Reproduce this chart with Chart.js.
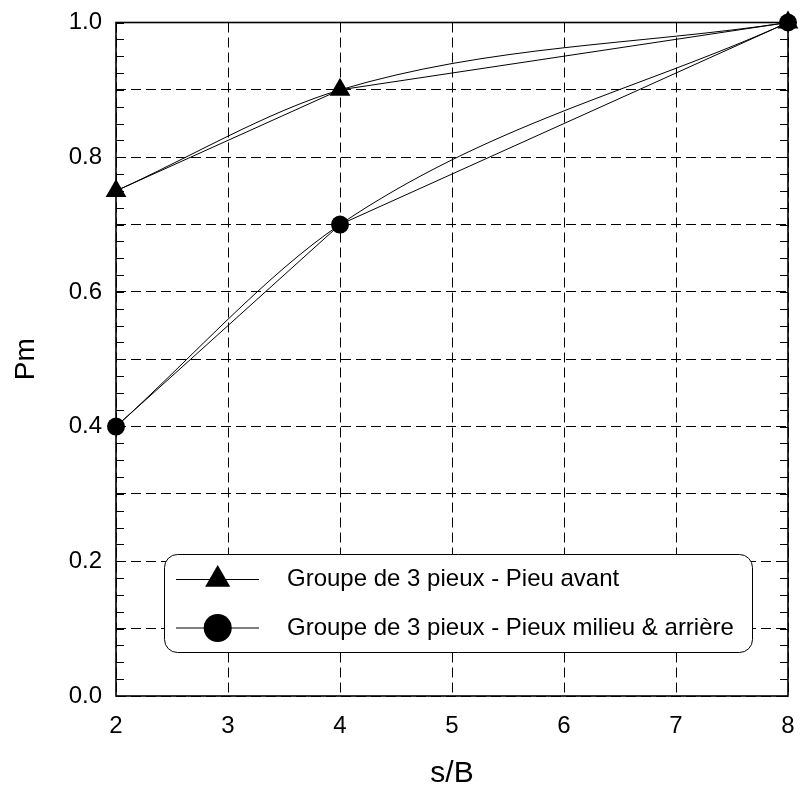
<!DOCTYPE html>
<html><head><meta charset="utf-8">
<script src="https://cdn.jsdelivr.net/npm/chart.js@4/dist/chart.umd.min.js"></script>
<style>html,body{margin:0;padding:0;background:#fff}#wrap{width:800px;height:789px}</style>
</head><body><div id="wrap"><canvas id="c" width="800" height="789"></canvas></div>
<script>
// ---- data ----
const sOverB = [2, 4, 8];
const pmAvant = [0.75, 0.9, 1.0];
const pmMilieuArriere = [0.4, 0.7, 1.0];
const seriesLabels = ['Groupe de 3 pieux - Pieu avant', 'Groupe de 3 pieux - Pieux milieu & arrière'];
const xTickValues = [2, 3, 4, 5, 6, 7, 8];
const yTickLabels = ['0.0', '0.2', '0.4', '0.6', '0.8', '1.0'];
const xTitle = 's/B';
const yTitle = 'Pm';

const FONT = "'Liberation Sans', Arial, Helvetica, sans-serif";
const pts = (ys) => sOverB.map((x, i) => ({x: x, y: ys[i]}));

const frame = {
  id: 'frame',
  beforeDatasetsDraw(chart) {
    const {ctx, chartArea: a, scales: {y}} = chart;
    ctx.save();
    ctx.strokeStyle = '#000';
    ctx.lineWidth = 1;
    for (let i = 0; i <= 40; i++) {
      const py = Math.round(y.getPixelForValue(y.min + (y.max - y.min) * i / 40)) + 0.5;
      ctx.beginPath();
      ctx.moveTo(a.left, py); ctx.lineTo(a.left + 8, py);
      ctx.moveTo(a.right - 8, py); ctx.lineTo(a.right, py);
      ctx.stroke();
    }
    ctx.lineWidth = 1.6;
    ctx.strokeRect(a.left, a.top, a.right - a.left, a.bottom - a.top);
    ctx.restore();
  }
};

const boxLegend = {
  id: 'boxLegend',
  afterDraw(chart) {
    const ctx = chart.ctx;
    const bx = 164, by = 554, bw = 588, bh = 98, r = 13;
    ctx.save();
    ctx.beginPath();
    ctx.roundRect(bx + 0.5, by + 0.5, bw, bh, r);
    ctx.fillStyle = '#fff';
    ctx.fill();
    ctx.strokeStyle = '#000';
    ctx.lineWidth = 1;
    ctx.stroke();
    const rows = [
      {y: 579.5, style: 'triangle', rad: 14.5, label: seriesLabels[0]},
      {y: 628, style: 'circle', rad: 14, label: seriesLabels[1]}
    ];
    rows.forEach(row => {
      ctx.beginPath();
      ctx.moveTo(176, row.y); ctx.lineTo(259, row.y);
      ctx.strokeStyle = '#000'; ctx.lineWidth = 1; ctx.stroke();
      ctx.fillStyle = '#000';
      Chart.helpers.drawPoint(ctx, {pointStyle: row.style, radius: row.rad, rotation: 0, borderWidth: 0}, 217.7, row.y);
      ctx.fillStyle = '#000';
      ctx.font = '24px ' + FONT;
      ctx.textBaseline = 'middle';
      ctx.textAlign = 'left';
      ctx.fillText(row.label, 287, row.y);
    });
    ctx.restore();
  }
};

const lineBase = {borderColor: '#000', borderWidth: 1, backgroundColor: '#000', pointBackgroundColor: '#000', pointBorderWidth: 0, showLine: true, fill: false};

new Chart(document.getElementById('c'), {
  type: 'scatter',
  data: {
    datasets: [
      Object.assign({}, lineBase, {label: seriesLabels[1] + ' (courbe)', data: pts(pmMilieuArriere), cubicInterpolationMode: 'monotone', pointRadius: 0}),
      Object.assign({}, lineBase, {label: seriesLabels[1], data: pts(pmMilieuArriere), tension: 0, pointStyle: 'circle', pointRadius: 9, clip: false}),
      Object.assign({}, lineBase, {label: seriesLabels[0] + ' (courbe)', data: pts(pmAvant), cubicInterpolationMode: 'monotone', pointRadius: 0}),
      Object.assign({}, lineBase, {label: seriesLabels[0], data: pts(pmAvant), tension: 0, pointStyle: 'triangle', pointRadius: 12, clip: false})
    ]
  },
  options: {
    responsive: false,
    animation: false,
    devicePixelRatio: 1,
    layout: {padding: {left: 0, right: 9.5, top: 22.5, bottom: 0}},
    plugins: {legend: {display: false}, tooltip: {enabled: false}},
    scales: {
      x: {
        type: 'linear', min: xTickValues[0], max: xTickValues[xTickValues.length - 1],
        afterBuildTicks: (s) => { s.ticks = xTickValues.map(v => ({value: v})); },
        afterFit: (s) => { s.height = 93; s.paddingLeft = 0; s.paddingRight = 0; },
        ticks: {font: {family: FONT, size: 24}, color: '#000', padding: 16, autoSkip: false, maxRotation: 0, callback: (v) => String(v)},
        grid: {color: '#000', lineWidth: 1, drawTicks: false},
        border: {display: false, dash: [10, 5]},
        title: {display: true, text: xTitle, font: {family: FONT, size: 30, lineHeight: 1}, color: '#000', padding: {top: 0, bottom: 0}}
      },
      y: {
        type: 'linear', min: 0, max: 1,
        afterBuildTicks: (s) => { const t = []; for (let i = 0; i <= 10; i++) t.push({value: i / 10}); s.ticks = t; },
        afterFit: (s) => { s.width = 116; s.paddingTop = 0; s.paddingBottom = 0; },
        ticks: {font: {family: FONT, size: 24}, color: '#000', padding: 14, autoSkip: false,
          callback: (v) => { const l = Number(v).toFixed(1); return yTickLabels.includes(l) ? l : ''; }},
        grid: {color: '#000', lineWidth: 1, drawTicks: false},
        border: {display: false, dash: [10, 5]},
        title: {display: true, text: yTitle, font: {family: FONT, size: 28}, color: '#000', padding: {top: 9, bottom: 0}}
      }
    }
  },
  plugins: [frame, boxLegend]
});
</script></body></html>
